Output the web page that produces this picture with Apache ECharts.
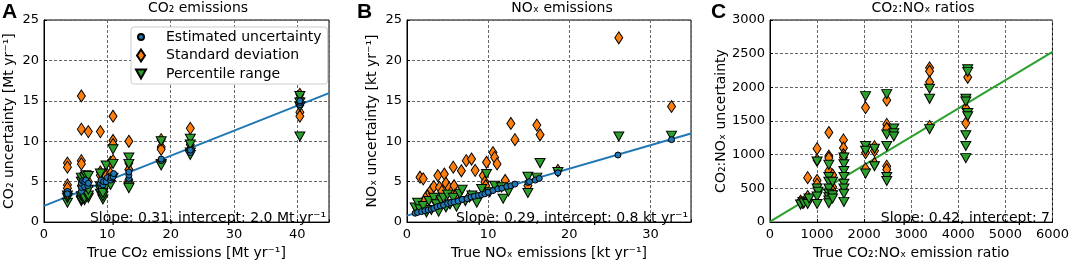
<!DOCTYPE html>
<html>
<head>
<meta charset="utf-8">
<script src="https://cdn.jsdelivr.net/npm/echarts@6.0.0/dist/echarts.min.js"></script>
<style>
  html, body { margin: 0; padding: 0; background: #fff; }
  #myChart { width: 1072px; height: 265px; }
</style>
</head>
<body>
<div id="myChart"></div>
<script>
// panel A: CO2 emissions [Mt/yr], pairs of [true, uncertainty]
var estUncA = [[3.7,3.8],[3.7,3.5],[5.9,3.8],[5.9,4.3],[5.9,4.8],[6.1,5.1],[6.4,4.4],[6.4,5.0],[6.6,5.2],[6.9,4.5],[7.0,4.8],
  [8.9,4.8],[9.0,5.2],[9.3,4.6],[9.4,5.0],[9.8,5.0],[10.0,5.5],[10.5,5.2],[10.6,5.5],[10.9,5.6],[11.0,6.0],
  [13.4,5.4],[13.4,5.8],[13.4,6.2],[18.5,7.6],[18.5,7.8],[23.1,8.6],[23.1,8.9],[40.4,14.5],[40.4,14.8],[40.4,15.0]];
var stdDevA = [[3.7,7.3],[3.7,6.8],[3.7,4.6],[3.7,4.2],[3.7,3.3],
  [5.9,15.6],[5.9,11.5],[5.9,7.6],[5.9,7.2],[5.9,5.5],[5.9,4.5],[5.9,3.5],
  [6.4,5.6],[6.4,4.0],[6.4,3.2],[7.0,11.2],[7.0,5.0],[7.0,3.5],
  [8.9,11.2],[8.9,6.2],[8.9,5.8],[9.3,5.2],[9.3,4.3],[9.8,6.1],[9.8,5.7],
  [10.5,7.4],[10.5,6.0],[10.9,13.1],[10.9,10.1],[10.9,9.6],[10.9,7.6],
  [13.4,10.0],[13.4,7.3],[13.4,6.5],[13.4,5.2],[13.4,4.8],
  [18.5,10.2],[18.5,9.3],[18.5,9.0],[23.1,11.6],[23.1,9.6],[23.1,9.0],
  [40.4,15.8],[40.4,15.3],[40.4,14.5],[40.4,13.6],[40.4,13.1]];
var pctRangeA = [[3.7,2.4],[3.7,3.0],[3.7,3.3],
  [5.9,2.6],[5.9,2.8],[5.9,3.2],[5.9,5.0],[5.9,5.5],
  [6.4,2.7],[6.4,3.0],[6.4,4.2],[6.4,5.5],[6.6,5.8],
  [7.0,3.0],[7.0,3.3],[7.0,4.0],[7.0,5.7],
  [8.9,3.5],[8.9,4.0],[8.9,4.4],[8.9,6.0],[9.3,2.8],[9.3,3.2],[9.3,3.6],
  [9.8,7.0],[9.8,4.5],[10.5,4.6],[10.9,9.0],[10.9,7.2],[10.9,5.5],
  [13.4,8.0],[13.4,7.2],[13.4,4.4],[13.4,4.2],
  [18.5,10.0],[18.5,7.2],[18.5,7.0],[23.1,10.3],[23.1,9.6],[23.1,8.6],[23.1,8.3],
  [40.4,15.6],[40.4,14.8],[40.4,14.3],[40.4,10.6]];
var fitA = [[0,2.0],[45,15.95]];

// panel B: NOx emissions [kt/yr]
var estUncB = [[1.0,1.1],[1.3,1.2],[1.8,1.3],[2.2,1.4],[2.6,1.5],[3.0,1.6],[3.3,1.7],[3.7,1.9],[4.1,2.0],[4.5,2.1],
  [5.0,2.3],[5.4,2.4],[5.8,2.5],[6.3,2.6],[6.8,2.8],[7.4,2.9],[7.9,3.1],[8.3,3.2],[8.8,3.3],[9.2,3.4],
  [9.6,3.5],[10.0,3.7],[10.6,3.9],[11.2,4.1],[11.7,4.2],[12.3,4.4],[12.8,4.5],[13.3,4.7],[14.9,4.9],
  [15.1,5.0],[15.8,5.2],[16.3,5.4],[18.6,6.1],[26.0,8.3],[32.6,10.2]];
var stdDevB = [[1.6,5.55],[2.0,5.35],[3.8,5.75],[4.6,5.95],[5.7,6.8],[6.7,6.35],[7.3,7.6],[7.95,7.8],[8.4,6.4],
  [9.4,5.75],[9.8,7.4],[10.6,8.6],[10.8,8.0],[9.6,4.95],[9.7,4.5],[11.1,7.2],[12.1,5.15],
  [1.2,1.8],[1.8,2.2],[2.2,2.8],[2.5,3.3],[2.8,3.6],[3.0,4.0],[3.3,4.4],[3.5,2.6],[3.6,2.8],[4.0,4.3],
  [4.3,3.8],[4.8,4.8],[5.2,4.2],[5.5,3.8],[5.8,4.5],[6.0,3.3],[7.7,3.2],
  [12.8,12.2],[13.3,10.2],[16.0,12.0],[16.4,10.8],[14.9,4.5],[18.6,6.4],[26.1,22.8],[32.6,14.3]];
var pctRangeB = [[1.0,1.8],[1.3,2.4],[1.6,1.6],[2.0,2.0],[2.4,1.2],[2.7,2.6],[3.0,1.5],[3.3,3.0],[3.6,2.2],
  [3.9,1.3],[4.2,2.7],[4.5,3.0],[4.8,1.8],[5.0,3.4],[5.3,2.2],[5.7,3.0],[6.1,1.9],[6.5,3.5],[6.8,4.0],
  [7.2,2.6],[8.0,3.3],[8.6,2.4],[9.2,4.1],[9.8,5.95],[10.2,3.7],[10.8,4.5],[11.65,4.3],[11.85,2.9],
  [12.5,3.8],[14.9,5.6],[16.0,5.5],[16.4,7.3],[14.9,3.6],[18.6,6.2],[26.1,10.6],[32.6,10.7]];
var fitB = [[0,0.8],[35,10.95]];

// panel C: CO2:NOx ratios
var stdDevC = [[650,310],[700,290],[800,660],[800,380],[820,330],
  [1000,1090],[1000,920],[1000,620],[1000,560],[1020,480],
  [1250,1330],[1250,980],[1250,950],[1250,760],[1280,640],[1330,700],[1330,520],[1330,460],
  [1560,1220],[1560,1100],[1560,1000],[1560,960],[2030,1700],[2030,1030],[2030,790],
  [2220,1120],[2220,1060],[2220,870],[2480,1810],[2480,1450],[2480,1390],[2480,830],[2480,780],
  [3390,2290],[3390,2240],[3390,2080],[3390,1420],[4160,1690],[4160,1470],[4200,2150]];
var pctRangeC = [[650,260],[700,300],[720,280],[800,270],[830,350],
  [1000,900],[1000,500],[1020,450],[1000,380],[1000,270],
  [1250,850],[1250,670],[1250,600],[1250,500],[1250,420],[1250,370],[1250,320],[1250,280],
  [1330,600],[1330,400],[1330,350],
  [1570,960],[1570,860],[1570,760],[1570,670],[1570,570],[1570,500],[1570,420],[1570,300],
  [2030,1870],[2030,1130],[2030,1060],[2030,720],[2220,1090],[2220,830],
  [2480,1900],[2480,1300],[2480,1130],[2480,670],[2480,610],[2630,1390],[2630,1320],[2630,1270],
  [3390,1980],[3390,1830],[3390,1380],
  [4160,1830],[4160,1790],[4160,1290],[4160,1130],[4160,950],[4200,2270],[4200,2230],[4200,1620],[4200,1570]];
var fitC = [[0,7],[6000,2527]];

var seriesNames = ["Estimated uncertainty", "Standard deviation", "Percentile range"];

var FONT = "DejaVu Sans";
var TRI = "path://M0,0L10,0L5,9Z";

function xAxisFor(i, max, interval, name) {
  return {
    type: "value", gridIndex: i, min: 0, max: max, interval: interval,
    name: name, nameLocation: "middle", nameGap: 21,
    nameTextStyle: { fontFamily: FONT, fontSize: 14, color: "#000" },
    axisLine: { show: true, lineStyle: { color: "#000" } },
    axisTick: { show: true, inside: true, length: 3, lineStyle: { color: "#000" } },
    axisLabel: {
      fontFamily: FONT, fontSize: 13, color: "#000", margin: 6,
      formatter: function (v) { return v % interval === 0 ? String(v) : ""; }
    },
    splitLine: { show: true, lineStyle: { color: "#666", type: [3, 2], width: 1 } }
  };
}
function yAxisFor(i, max, interval, name) {
  return {
    type: "value", gridIndex: i, min: 0, max: max, interval: interval,
    name: name, nameLocation: "middle", nameGap: 28,
    nameTextStyle: { fontFamily: FONT, fontSize: 14, color: "#000" },
    axisLine: { show: true, lineStyle: { color: "#000" } },
    axisTick: { show: true, inside: true, length: 3, lineStyle: { color: "#000" } },
    axisLabel: {
      fontFamily: FONT, fontSize: 13, color: "#000", margin: 5,
      formatter: function (v) { return String(v); }
    },
    splitLine: { show: true, lineStyle: { color: "#666", type: [3, 2], width: 1 } }
  };
}
function scatter(i, name, data) {
  var s = {
    name: name, type: "scatter", xAxisIndex: i, yAxisIndex: i, data: data,
    itemStyle: { borderColor: "#000", borderWidth: 1, opacity: 1 }
  };
  if (name === seriesNames[0]) { s.symbol = "circle"; s.symbolSize = 6; s.itemStyle.color = "#1f77b4"; s.z = 4; }
  if (name === seriesNames[1]) { s.symbol = "diamond"; s.symbolSize = [8, 12]; s.itemStyle.color = "#ff7f0e"; s.z = 2; }
  if (name === seriesNames[2]) { s.symbol = TRI; s.symbolSize = [10, 9]; s.itemStyle.color = "#2ca02c"; s.z = 3; }
  return s;
}
function fitLine(i, data, color) {
  return {
    type: "line", xAxisIndex: i, yAxisIndex: i, data: data, showSymbol: false, silent: true,
    lineStyle: { color: color, width: 2 }, z: 1
  };
}
function label(x, y, text, font, align) {
  return {
    type: "text", x: x, y: y, silent: true,
    style: { text: text, font: font, fill: "#000", align: align, verticalAlign: "middle" }
  };
}

var chart = echarts.init(document.getElementById("myChart"));
chart.setOption({
  animation: false,
  grid: [
    { left: 44, top: 20, width: 285, height: 206, show: true, borderColor: "#000", borderWidth: 1 },
    { left: 407, top: 20, width: 284, height: 206, show: true, borderColor: "#000", borderWidth: 1 },
    { left: 770, top: 20, width: 283, height: 206, show: true, borderColor: "#000", borderWidth: 1 }
  ],
  xAxis: [
    xAxisFor(0, 45, 10, "True CO\u2082 emissions [Mt yr\u207b\u00b9]"),
    xAxisFor(1, 35, 10, "True NO\u2093 emissions [kt yr\u207b\u00b9]"),
    xAxisFor(2, 6000, 1000, "True CO\u2082:NO\u2093 emission ratio")
  ],
  yAxis: [
    yAxisFor(0, 25, 5, "CO\u2082 uncertainty [Mt yr\u207b\u00b9]"),
    yAxisFor(1, 25, 5, "NO\u2093 uncertainty [kt yr\u207b\u00b9]"),
    yAxisFor(2, 3000, 500, "CO\u2082:NO\u2093 uncertainty")
  ],
  legend: {
    left: 131, top: 27, orient: "vertical",
    padding: [3, 6, 3, 3], itemGap: 4.5, itemWidth: 12, itemHeight: 12,
    borderColor: "#ccc", borderWidth: 1, borderRadius: 3, backgroundColor: "#fff",
    textStyle: { fontFamily: FONT, fontSize: 14, color: "#000", padding: [0, 0, 0, 14] },
    data: [
      { name: seriesNames[0], icon: "path://M0,0M12,12M9,6A3,3,0,1,1,3,6A3,3,0,1,1,9,6Z" },
      { name: seriesNames[1], icon: "path://M0,0M12,12M6,0L10,6L6,12L2,6Z" },
      { name: seriesNames[2], icon: "path://M0,0M12,12M1,1.5L11,1.5L6,10.5Z" }
    ],
    selectedMode: false
  },
  series: [
    fitLine(0, fitA, "#1f77b4"),
    scatter(0, seriesNames[1], stdDevA),
    scatter(0, seriesNames[2], pctRangeA),
    scatter(0, seriesNames[0], estUncA),
    fitLine(1, fitB, "#1f77b4"),
    scatter(1, seriesNames[1], stdDevB),
    scatter(1, seriesNames[2], pctRangeB),
    scatter(1, seriesNames[0], estUncB),
    fitLine(2, fitC, "#2ca02c"),
    scatter(2, seriesNames[1], stdDevC),
    scatter(2, seriesNames[2], pctRangeC)
  ],
  graphic: [
    label(2, 12, "A", "bold 21px Liberation Sans", "left"),
    label(357, 12, "B", "bold 21px Liberation Sans", "left"),
    label(711, 12, "C", "bold 21px Liberation Sans", "left"),
    label(198, 8, "CO\u2082 emissions", "14px " + FONT, "center"),
    label(562, 8, "NO\u2093 emissions", "14px " + FONT, "center"),
    label(923, 8, "CO\u2082:NO\u2093 ratios", "14px " + FONT, "center"),
    label(326, 218, "Slope: 0.31, intercept: 2.0 Mt yr\u207b\u00b9", "14px " + FONT, "right"),
    label(688, 218, "Slope: 0.29, intercept: 0.8 kt yr\u207b\u00b9", "14px " + FONT, "right"),
    label(1050, 218, "Slope: 0.42, intercept: 7", "14px " + FONT, "right")
  ]
});
</script>
</body>
</html>
